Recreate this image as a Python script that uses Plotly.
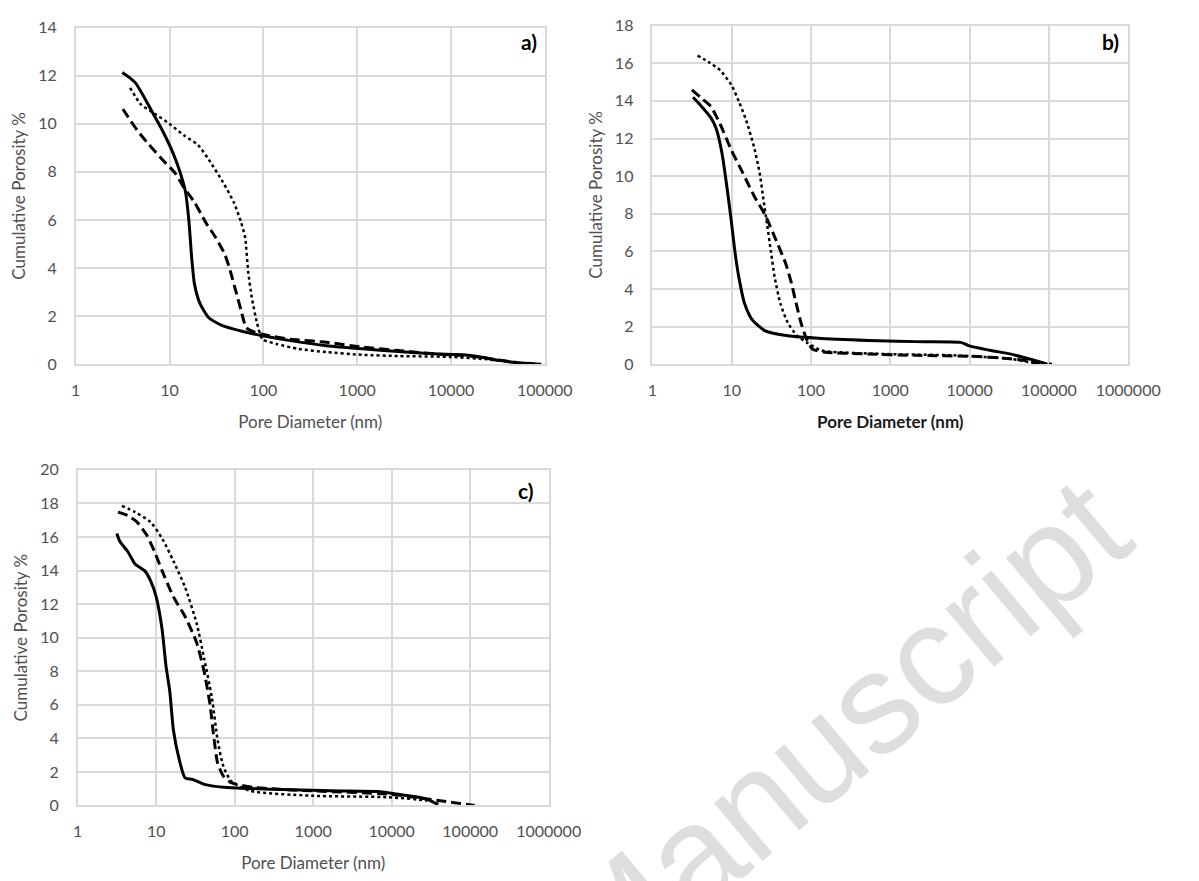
import plotly.graph_objects as go

# ---------------- data (pore diameter nm, cumulative porosity %) ----------------
a_solid_x = [3.13, 3.8, 4.33, 5.16, 6.43, 8.36, 10.9, 13.0, 14.8, 16.1, 17.2, 18.4, 21.0, 26.2, 37.2, 57.6, 97.7, 195, 473, 1138, 2737, 6580, 13270, 20600, 32000, 49600, 91600]
a_solid_y = [12.13, 11.9, 11.7, 11.22, 10.54, 9.73, 8.78, 7.96, 7.15, 5.93, 4.44, 3.35, 2.54, 1.93, 1.59, 1.38, 1.18, 0.98, 0.77, 0.64, 0.53, 0.43, 0.39, 0.30, 0.16, 0.07, 0.0]
a_dash_x = [3.18, 3.63, 4.52, 5.89, 8.36, 11.4, 14.2, 18.4, 24.0, 31.2, 38.8, 44.3, 50.5, 57.6, 65.8, 81.8, 116, 196, 473, 1138, 2737, 6580, 15850, 29260, 49600]
a_dash_y = [10.61, 10.27, 9.73, 9.18, 8.51, 7.96, 7.35, 6.74, 5.93, 5.25, 4.57, 3.89, 3.08, 2.27, 1.52, 1.32, 1.18, 1.04, 0.91, 0.71, 0.57, 0.43, 0.34, 0.20, 0.07]
a_dot_x = [3.8, 4.94, 7.0, 9.96, 14.2, 20.1, 26.2, 37.2, 48.3, 57.6, 64.0, 68.7, 75.0, 85.5, 97.7, 139, 234, 473, 1138, 2737, 10200, 24600, 45400, 64000]
a_dot_y = [11.49, 10.81, 10.41, 10.0, 9.52, 9.12, 8.51, 7.56, 6.74, 5.93, 5.25, 3.89, 2.81, 1.72, 1.04, 0.84, 0.64, 0.50, 0.39, 0.34, 0.30, 0.20, 0.09, 0.0]

b_solid_x = [3.25, 4.14, 5.43, 6.4, 7.55, 8.89, 9.91, 11.1, 12.3, 14.5, 18.1, 26.5, 51, 136, 702, 2094, 7760, 9660, 18600, 32100, 55500, 77000, 95600]
b_solid_y = [14.19, 13.72, 13.12, 12.51, 11.21, 9.13, 7.57, 5.84, 4.63, 3.24, 2.37, 1.77, 1.51, 1.37, 1.25, 1.20, 1.16, 0.99, 0.73, 0.55, 0.29, 0.12, 0.0]
b_dash_x = [3.15, 4.14, 5.43, 7.14, 9.91, 13.8, 19.1, 26.5, 36.8, 48.3, 56.9, 63.5, 74.8, 88.1, 104, 152, 454, 2094, 10770, 32100, 55500, 77000]
b_dash_y = [14.59, 14.15, 13.72, 12.77, 11.38, 10.17, 8.96, 7.92, 6.53, 5.32, 4.28, 3.41, 2.20, 1.33, 0.81, 0.64, 0.55, 0.47, 0.42, 0.29, 0.16, 0.0]
b_dot_x = [3.71, 5.15, 7.14, 9.91, 12.3, 15.3, 19.1, 22.5, 25.1, 28.0, 31.2, 34.8, 41.0, 51.0, 67.0, 88.1, 136, 702, 6240, 32100, 55500, 119000]
b_dot_y = [16.41, 16.06, 15.63, 14.85, 13.98, 12.94, 11.56, 10.17, 8.78, 7.40, 6.01, 4.63, 3.24, 2.20, 1.51, 1.16, 0.73, 0.55, 0.47, 0.29, 0.12, 0.0]

c_solid_x = [3.15, 3.45, 4.32, 5.41, 6.4, 7.16, 8.47, 10.0, 11.9, 13.3, 14.9, 16.6, 19.7, 23.3, 29.2, 40.9, 80.4, 310, 1676, 7230, 11350, 22300, 31200, 39100]
c_solid_y = [16.21, 15.73, 15.15, 14.37, 14.14, 13.98, 13.40, 12.43, 10.49, 8.35, 6.80, 4.47, 2.72, 1.65, 1.55, 1.26, 1.07, 0.97, 0.87, 0.82, 0.68, 0.49, 0.29, 0.04]
c_dash_x = [3.26, 4.32, 5.71, 7.57, 9.49, 11.9, 16.6, 23.3, 32.7, 40.9, 48.5, 54.2, 60.7, 71.8, 90.0, 177, 955, 9060, 27900, 49000, 114000]
c_dash_y = [17.48, 17.28, 16.89, 16.12, 15.15, 13.98, 12.43, 11.26, 9.71, 7.96, 6.02, 4.08, 2.52, 1.75, 1.36, 1.07, 0.87, 0.68, 0.39, 0.23, 0.0]
c_dot_x = [3.65, 5.41, 8.47, 11.9, 16.6, 23.3, 32.7, 40.9, 51.3, 60.7, 71.8, 90, 158, 955, 9060, 27900, 39100]
c_dot_y = [17.86, 17.48, 16.89, 15.92, 14.56, 13.01, 10.87, 8.74, 6.41, 3.88, 2.33, 1.46, 0.87, 0.58, 0.49, 0.29, 0.10]

x_tick_vals_5 = [1, 10, 100, 1000, 10000, 100000]
x_tick_text_5 = ["1", "10", "100", "1000", "10000", "100000"]
x_tick_vals_6 = [1, 10, 100, 1000, 10000, 100000, 1000000]
x_tick_text_6 = ["1", "10", "100", "1000", "10000", "100000", "1000000"]

panel_labels = ["a)", "b)", "c)"]
x_title = "Pore Diameter (nm)"
y_title = "Cumulative Porosity %"
watermark = "Manuscript"

# ---------------- figure ----------------
W, H = 1199, 881
FONT = "Lato"
GRID = "#d9d9d9"
TICKC = "#505050"

fig = go.Figure()

DASH = "10px,5px"
series = [
    ("x", "y", a_solid_x, a_solid_y, "solid", 3),
    ("x", "y", a_dash_x, a_dash_y, DASH, 3),
    ("x", "y", a_dot_x, a_dot_y, "dot", 2.5),
    ("x2", "y2", b_solid_x, b_solid_y, "solid", 3),
    ("x2", "y2", b_dash_x, b_dash_y, DASH, 3),
    ("x2", "y2", b_dot_x, b_dot_y, "dot", 2.5),
    ("x3", "y3", c_solid_x, c_solid_y, "solid", 3),
    ("x3", "y3", c_dash_x, c_dash_y, DASH, 3),
    ("x3", "y3", c_dot_x, c_dot_y, "dot", 2.5),
]
for xa, ya, xs, ys, dash, w in series:
    fig.add_trace(go.Scatter(x=xs, y=ys, xaxis=xa, yaxis=ya, mode="lines",
                             line=dict(color="black", width=w, dash=dash, shape="spline", smoothing=0.6),
                             showlegend=False, hoverinfo="skip"))

def px_x(p):
    return p / W

def px_y(p):
    return (H - p) / H

def xaxis(domain, rng, vals, text, anchor, bold=False):
    return dict(type="log", domain=domain, range=rng, tickvals=vals, ticktext=text, anchor=anchor,
                showgrid=True, gridcolor=GRID, gridwidth=1.5, zeroline=False,
                showline=True, linecolor=GRID, linewidth=1.5, mirror=True,
                ticks="", ticklabelstandoff=11,
                tickfont=dict(family=FONT, size=16, color=TICKC),
                title=dict(text=("<b>%s</b>" % x_title) if bold else x_title,
                           font=dict(family=FONT, size=17, color="#1a1a1a" if bold else TICKC),
                           standoff=18))

def yaxis(domain, top, anchor):
    return dict(domain=domain, range=[0, top], dtick=2, anchor=anchor,
                showgrid=True, gridcolor=GRID, gridwidth=1.5, zeroline=False,
                showline=True, linecolor=GRID, linewidth=1.5, mirror=True,
                ticks="", ticklabelstandoff=14,
                tickfont=dict(family=FONT, size=16, color=TICKC),
                title=dict(text=y_title, font=dict(family=FONT, size=17, color=TICKC), standoff=8))

fig.update_layout(
    width=W, height=H, margin=dict(l=0, r=0, t=0, b=0),
    paper_bgcolor="white", plot_bgcolor="white",
    xaxis=xaxis([px_x(73), px_x(557)], [0, 5], x_tick_vals_5, x_tick_text_5, "y"),
    yaxis=yaxis([px_y(362), px_y(18)], 14, "x"),
    xaxis2=xaxis([px_x(668), px_x(1159)], [0, 6], x_tick_vals_6, x_tick_text_6, "y2", bold=True),
    yaxis2=yaxis([px_y(362), px_y(16)], 18, "x2"),
    xaxis3=xaxis([px_x(75), px_x(561)], [0, 6], x_tick_vals_6, x_tick_text_6, "y3"),
    yaxis3=yaxis([px_y(813), px_y(470)], 20, "x3"),
)

label_pos = [("x domain", "y domain", 0.988, 0.959),
             ("x2 domain", "y2 domain", 0.984, 0.954),
             ("x3 domain", "y3 domain", 0.973, 0.939)]
for lab, (xr, yr, lx, ly) in zip(panel_labels, label_pos):
    fig.add_annotation(text="<b>%s</b>" % lab, xref=xr, yref=yr, x=lx, y=ly,
                       xanchor="right", yanchor="middle", showarrow=False,
                       font=dict(family=FONT, size=21, color="black"))

fig.add_annotation(text=watermark, xref="paper", yref="paper", x=px_x(860), y=px_y(738),
                   xanchor="center", yanchor="middle",
                   showarrow=False, textangle=-40,
                   font=dict(family="Liberation Sans", size=143, color="#dedede"))

fig.write_html("out.html")
